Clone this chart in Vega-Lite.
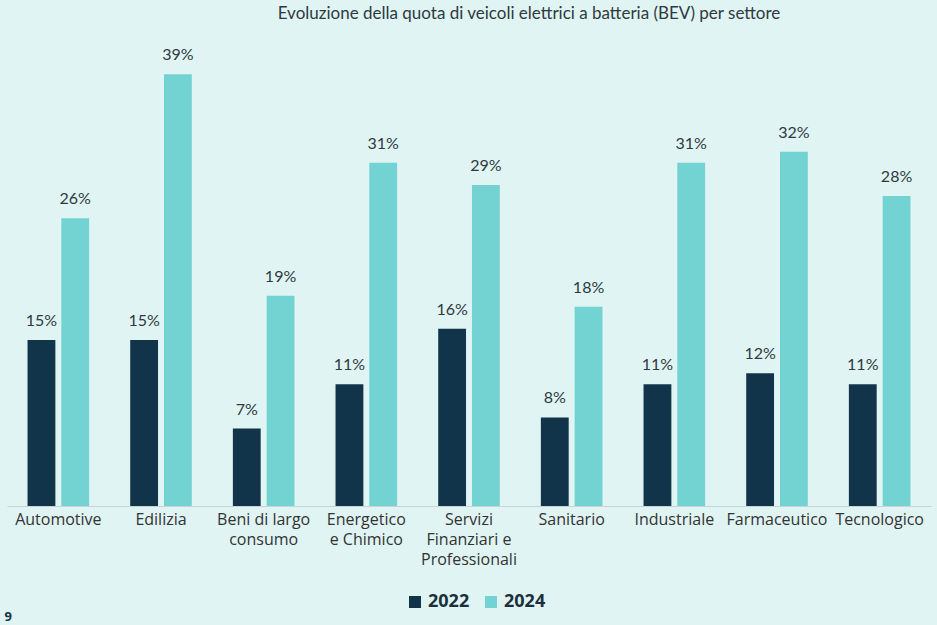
{
  "$schema": "https://vega.github.io/schema/vega-lite/v6.json",
  "autosize": {"type": "none"},
  "width": 924,
  "height": 465,
  "padding": {"left": 7, "top": 41, "right": 6, "bottom": 119},
  "background": "#E0F4F4",
  "title": {
    "text": "Evoluzione della quota di veicoli elettrici a batteria (BEV) per settore",
    "font": "Lato",
    "fontSize": 17,
    "fontWeight": "normal",
    "color": "#2E3A40",
    "anchor": "middle",
    "dx": 60,
    "offset": 18
  },
  "data": {
    "values": [
      {"settore": "Automotive", "anno": "2022", "quota": 0.15},
      {"settore": "Automotive", "anno": "2024", "quota": 0.26},
      {"settore": "Edilizia", "anno": "2022", "quota": 0.15},
      {"settore": "Edilizia", "anno": "2024", "quota": 0.39},
      {"settore": "Beni di largo consumo", "anno": "2022", "quota": 0.07},
      {"settore": "Beni di largo consumo", "anno": "2024", "quota": 0.19},
      {"settore": "Energetico e Chimico", "anno": "2022", "quota": 0.11},
      {"settore": "Energetico e Chimico", "anno": "2024", "quota": 0.31},
      {"settore": "Servizi Finanziari e Professionali", "anno": "2022", "quota": 0.16},
      {"settore": "Servizi Finanziari e Professionali", "anno": "2024", "quota": 0.29},
      {"settore": "Sanitario", "anno": "2022", "quota": 0.08},
      {"settore": "Sanitario", "anno": "2024", "quota": 0.18},
      {"settore": "Industriale", "anno": "2022", "quota": 0.11},
      {"settore": "Industriale", "anno": "2024", "quota": 0.31},
      {"settore": "Farmaceutico", "anno": "2022", "quota": 0.12},
      {"settore": "Farmaceutico", "anno": "2024", "quota": 0.32},
      {"settore": "Tecnologico", "anno": "2022", "quota": 0.11},
      {"settore": "Tecnologico", "anno": "2024", "quota": 0.28}
    ]
  },
  "encoding": {
    "x": {
      "field": "settore",
      "type": "nominal",
      "sort": null,
      "scale": {"paddingInner": 0.4, "paddingOuter": 0.2},
      "axis": {
        "title": "9",
        "titleFont": "Open Sans",
        "titleFontSize": 13,
        "titleFontWeight": "bold",
        "titleColor": "#12344A",
        "titleAnchor": "start",
        "titleAlign": "left",
        "titleBaseline": "top",
        "titleX": -3,
        "titleY": 104,
        "labelAngle": 0,
        "labelFont": "Open Sans",
        "labelFontSize": 16,
        "labelColor": "#333333",
        "labelPadding": 5,
        "labelLineHeight": 20,
        "labelLimit": 200,
        "ticks": false,
        "domainColor": "#C8D4D4",
        "labelExpr": "datum.value == 'Beni di largo consumo' ? ['Beni di largo', 'consumo'] : datum.value == 'Energetico e Chimico' ? ['Energetico', 'e Chimico'] : datum.value == 'Servizi Finanziari e Professionali' ? ['Servizi', 'Finanziari e', 'Professionali'] : datum.value"
      }
    },
    "xOffset": {
      "field": "anno",
      "type": "nominal",
      "scale": {"paddingInner": 0.176, "paddingOuter": 0}
    },
    "y": {
      "field": "quota",
      "type": "quantitative",
      "scale": {"domain": [0, 0.42]},
      "axis": null
    }
  },
  "layer": [
    {
      "mark": {"type": "bar"},
      "encoding": {
        "color": {
          "field": "anno",
          "type": "nominal",
          "scale": {"domain": ["2022", "2024"], "range": ["#12344A", "#73D2D2"]},
          "legend": {
            "title": null,
            "orient": "none",
            "direction": "horizontal",
            "legendX": 399,
            "legendY": 552,
            "symbolType": "square",
            "symbolSize": 144,
            "symbolStrokeWidth": 0,
            "labelFont": "Open Sans",
            "labelFontSize": 18,
            "labelFontWeight": "bold",
            "labelColor": "#1B2F3D",
            "labelOffset": 4,
            "columnPadding": 12
          }
        }
      }
    },
    {
      "mark": {
        "type": "text",
        "baseline": "bottom",
        "dy": -11,
        "font": "Lato",
        "fontSize": 16,
        "color": "#2E3A40"
      },
      "encoding": {
        "text": {"field": "quota", "type": "quantitative", "format": ".0%"}
      }
    }
  ],
  "config": {
    "view": {"stroke": null},
    "axis": {"grid": false}
  }
}
